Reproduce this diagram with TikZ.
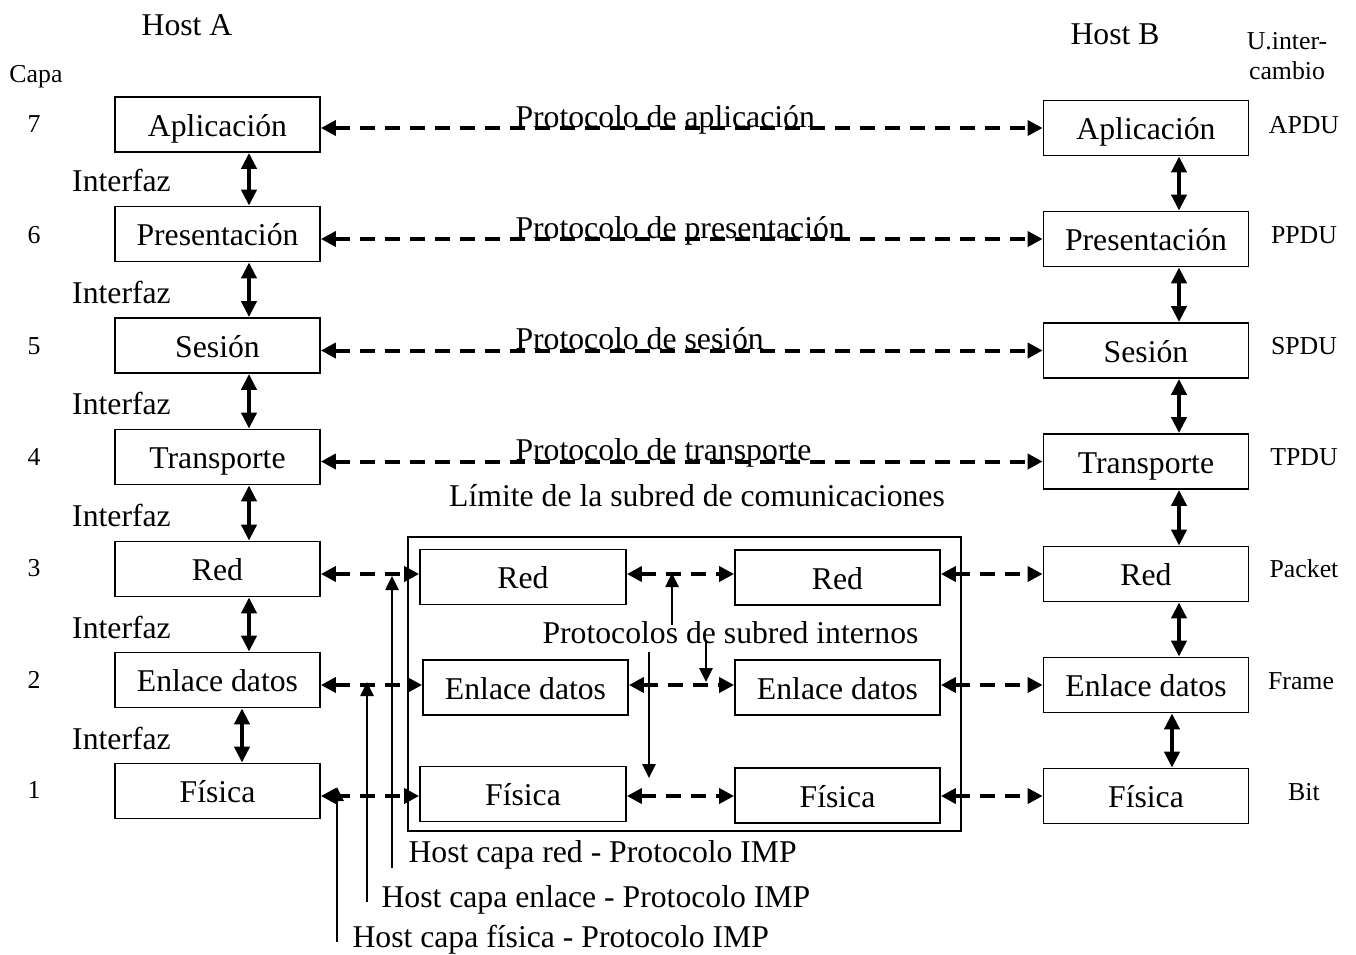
\documentclass[tikz,border=0pt]{standalone}
\usepackage{fontspec}
\setmainfont{Liberation Serif}
\usetikzlibrary{arrows.meta,calc}
\begin{document}
\begin{tikzpicture}[x=1pt,y=-1pt,
  big/.style={font=\fontsize{31.7}{36}\selectfont},
  small/.style={font=\fontsize{25.8}{30}\selectfont},
  layerbox/.style={draw,line width=1.8pt,minimum width=205pt,minimum height=55pt,
    inner sep=0pt,text height=29pt,text depth=6pt,big},
  iface/.style={line width=4pt,{Triangle[length=16pt,width=15pt]}-{Triangle[length=16pt,width=15pt]}},
  peer/.style={line width=4pt,dash pattern=on 15pt off 10pt,
    {Triangle[length=15pt,width=15pt]}-{Triangle[length=15pt,width=15pt]}},
  pointer/.style={line width=2.6pt,-{Triangle[length=14pt,width=13pt]}}]
\useasboundingbox (0,0) rectangle (1356,954);

% headings
\node[big] (hostA) at (187,25) {Host A};
\node[big] (hostB) at (1115,34) {Host B};
\node[small,anchor=base] (capa) at (36,82) {Capa};
\node[small,align=center] (unit) at (1287,56) {U.inter-\\cambio};

% layer numbers and exchange units
\foreach \n/\y in {7/124,6/235,5/346,4/457,3/568,2/680,1/790}
  \node[small] (num\n) at (34,\y) {\n};
\foreach \n/\u/\x/\y in {7/APDU/1304/125,6/PPDU/1304/235,5/SPDU/1304/346,4/TPDU/1304/457,
    3/Packet/1304/569,2/Frame/1301/681,1/Bit/1304/792}
  \node[small] (pdu\n) at (\x,\y) {\u};

% host A stack
\foreach \n/\t/\y in {7/Aplicación/124.5,6/Presentación/234,5/Sesión/345.5,4/Transporte/457,
    3/Red/569,2/Enlace datos/680,1/Física/791}
  \node[layerbox] (a\n) at (217.5,\y) {\t};

% host B stack
\foreach \n/\t/\y in {7/Aplicación/128,6/Presentación/239,5/Sesión/350.5,4/Transporte/461.5,
    3/Red/574,2/Enlace datos/685,1/Física/796}
  \node[layerbox] (b\n) at (1146,\y) {\t};

% interface labels
\foreach \y in {180,292.5,403,515,627,738}
  \node[big] at (121.5,\y) {Interfaz};

% interfaces between adjacent layers
\foreach \u/\l in {7/6,6/5,5/4,4/3,3/2}{
  \draw[iface] ([xshift=31.5pt]a\u.south) -- ([xshift=31.5pt]a\l.north);
  \draw[iface] ([xshift=33pt]b\u.south) -- ([xshift=33pt]b\l.north);
}
\draw[iface] ([xshift=24.5pt]a2.south) -- ([xshift=24.5pt]a1.north);
\draw[iface] ([xshift=26pt]b2.south) -- ([xshift=26pt]b1.north);

% peer protocols, layers 7 to 4
\foreach \n in {7,6,5,4}
  \draw[peer] (a\n.east |- b\n.west) -- (b\n.west);
\node[big,anchor=base west] (p7) at (512,127) {Protocolo de aplicación};
\node[big,anchor=base west] (p6) at (512,238) {Protocolo de presentación};
\node[big,anchor=base west] (p5) at (512,349) {Protocolo de sesión};
\node[big,anchor=base west] (p4) at (512,460) {Protocolo de transporte};

% communication subnet
\node[big,anchor=base] (limite) at (697,506) {Límite de la subred de comunicaciones};
\node[draw,line width=1.8pt,minimum width=553pt,minimum height=294pt,inner sep=0pt]
  (subnet) at (684.5,684) {};
\node[layerbox,minimum width=206pt] (ml3) at (523,577) {Red};
\node[layerbox] (mr3) at (837.5,577.5) {Red};
\node[layerbox] (ml2) at (525.5,687.5) {Enlace datos};
\node[layerbox] (mr2) at (837.5,687.5) {Enlace datos};
\node[layerbox,minimum width=206pt] (ml1) at (523,794) {Física};
\node[layerbox] (mr1) at (837.5,795.5) {Física};

% peer protocols, layers 3 to 1
\foreach \n in {3,2,1}{
  \draw[peer] (a\n.east |- b\n.west) -- (ml\n.west |- b\n.west);
  \draw[peer] (ml\n.east |- b\n.west) -- (mr\n.west |- b\n.west);
  \draw[peer] (mr\n.east |- b\n.west) -- (b\n.west);
}

% internal subnet protocols
\node[big,anchor=base west] (internos) at (539,643) {Protocolos de subred internos};
\coordinate (i3) at (672,625);
\coordinate (i3t) at (672,573);
\coordinate (i2) at (706,640);
\coordinate (i2t) at (706,682);
\coordinate (i1) at (649,652);
\coordinate (i1t) at (649,778);
\draw[pointer] (i3) -- (i3t);
\draw[pointer] (i2) -- (i2t);
\draw[pointer] (i1) -- (i1t);

% host to IMP protocols
\node[big,anchor=base west] (hred) at (405,862) {Host capa red - Protocolo IMP};
\node[big,anchor=base west] (henl) at (378,907) {Host capa enlace - Protocolo IMP};
\node[big,anchor=base west] (hfis) at (349,947) {Host capa física - Protocolo IMP};
\coordinate (r0) at (392,868);
\coordinate (r1) at (392,576);
\coordinate (e0) at (367,902);
\coordinate (e1) at (367,682);
\coordinate (f0) at (337,942);
\coordinate (f1) at (337,787);
\draw[pointer] (r0) -- (r1);
\draw[pointer] (e0) -- (e1);
\draw[pointer] (f0) -- (f1);
\end{tikzpicture}
\end{document}
